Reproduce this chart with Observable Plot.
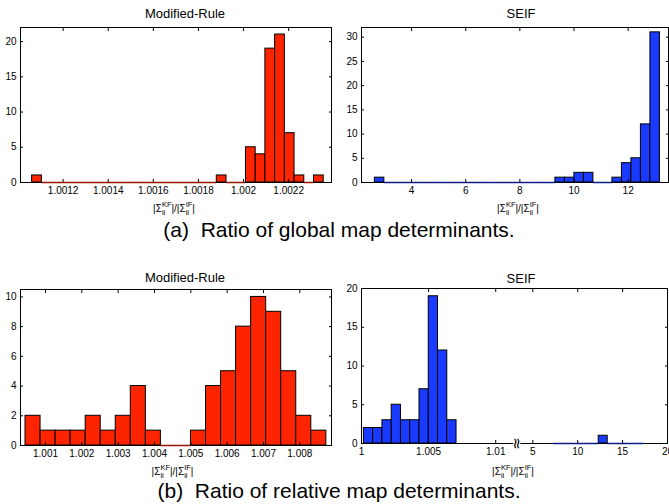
<!DOCTYPE html>
<html>
<head>
<meta charset="utf-8">
<script src="https://cdn.jsdelivr.net/npm/d3@7"></script>
<script src="https://cdn.jsdelivr.net/npm/@observablehq/plot@0.6"></script>
<style>
  html, body { margin: 0; padding: 0; background: #fff; }
  #fig { position: relative; width: 669px; height: 504px; overflow: hidden; background: #fff;
         font-family: "Liberation Sans", Arial, Helvetica, sans-serif; color: #000; }
  .panel { position: absolute; }
  .ttl { position: absolute; font-size: 13px; line-height: 13px; white-space: nowrap; transform: translate(-50%, -50%); }
  .xlab { position: absolute; font-size: 10px; line-height: 18px; white-space: nowrap; transform: translate(-50%, -50%); }
  .ss { display: inline-flex; flex-direction: column; font-size: 7.5px; line-height: 8px; vertical-align: middle; }
  .cap { position: absolute; font-size: 21px; line-height: 21px; white-space: pre; transform: translateX(-50%); }
</style>
</head>
<body>
<div id="fig"></div>
<script>
// ---------------- DATA ----------------
// (a) Ratio of global map determinants — Modified-Rule
const aModStart = 1.0010625;
const aModWidth = 0.0000431;
const aModCounts = [1,0,0,0,0,0,0,0,0,0,0,0,0,0,0,0,0,0,0,1,0,0,5,4,19,21,7,1,0,1];
const aModXDomain = [1.001011, 1.00239];
const aModXTicks = [1.0012, 1.0014, 1.0016, 1.0018, 1.002, 1.0022];
const aModYTicks = [0, 5, 10, 15, 20];
const aModYMax = 22;

// (a) — SEIF
const aSeifStart = 2.643;
const aSeifWidth = 0.351;
const aSeifCounts = [1,0,0,0,0,0,0,0,0,0,0,0,0,0,0,0,0,0,0,1,1,2,2,0,0,1,4,5,12,31];
const aSeifXDomain = [2.15, 13.49];
const aSeifXTicks = [4, 6, 8, 10, 12];
const aSeifYTicks = [0, 5, 10, 15, 20, 25, 30];
const aSeifYMax = 32;

// (b) Ratio of relative map determinants — Modified-Rule
const bModStart = 1.00045;
const bModWidth = 0.000414;
const bModCounts = [2,1,1,1,2,1,2,4,1,0,0,1,4,5,8,10,9,5,2,1];
const bModXDomain = [1.000312, 1.008872];
const bModXTicks = [1.001, 1.002, 1.003, 1.004, 1.005, 1.006, 1.007, 1.008];
const bModYTicks = [0, 2, 4, 6, 8, 10];
const bModYMax = 10.5;

// (b) — SEIF (broken x axis)
const bSeifLoStart = 1.00018;
const bSeifLoWidth = 0.00069;
const bSeifLoCounts = [2,2,3,5,3,3,7,19,12,3];
const bSeifHiStart = 7.34;
const bSeifHiWidth = 1.0;
const bSeifHiCounts = [0,0,0,0,0,1,0,0,0,0];
const bSeifXDomain = [1, 20];
const bSeifBreak = [1.0116, 3.26];
const bSeifXTicks = [1, 1.005, 1.01, 5, 10, 15, 20];
const bSeifYTicks = [0, 5, 10, 15, 20];
const bSeifYMax = 20;

const titles = ["Modified-Rule", "SEIF"];
const captions = ["(a)  Ratio of global map determinants.", "(b)  Ratio of relative map determinants."];

// ---------------- STYLE ----------------
const RED = "#ff2400", RED_DARK = "#9a1400";
const BLUE = "#1a3aff", BLUE_DARK = "#0c1c8a";
const fmt = d3.format("~g");
const FONT = "Liberation Sans, Arial, Helvetica, sans-serif";

function bins(start, width, counts) {
  return counts.map((c, i) => ({x1: start + i * width, x2: start + (i + 1) * width, count: c}));
}

function histPanel({data, color, dark, x, yMax, xTicks, yTicks, width, height, m, extra = []}) {
  return Plot.plot({
    width, height,
    marginLeft: m[0], marginRight: m[1], marginTop: m[2], marginBottom: m[3],
    style: {background: "none", overflow: "visible", fontFamily: FONT, fontSize: "10px", color: "black"},
    x, y: {domain: [0, yMax]},
    marks: [
      Plot.frame({stroke: "black", strokeWidth: 1}),
      Plot.ruleY(data.filter(d => d.count === 0), {x1: "x1", x2: "x2", y: () => 0, stroke: dark, strokeWidth: 1.5}),
      Plot.rect(data.filter(d => d.count > 0), {x1: "x1", x2: "x2", y1: () => 0, y2: "count", fill: color, stroke: "black", strokeWidth: 1}),
      ...extra,
      Plot.axisX(xTicks, {anchor: "bottom", tickSize: 0, tickPadding: 4.5, tickFormat: fmt, label: null, fontSize: 10}),
      Plot.axisX(xTicks, {anchor: "bottom", tickSize: 3, dy: -3, fill: "none", label: null}),
      Plot.axisX(xTicks, {anchor: "top", tickSize: 3, dy: 3, fill: "none", label: null}),
      Plot.axisY(yTicks, {anchor: "left", tickSize: 0, tickPadding: 4, tickFormat: fmt, label: null, fontSize: 10}),
      Plot.axisY(yTicks, {anchor: "left", tickSize: 3, dx: 3, fill: "none", label: null}),
      Plot.axisY(yTicks, {anchor: "right", tickSize: 3, dx: -3, fill: "none", label: null})
    ]
  });
}

const fig = document.getElementById("fig");
function place(node, left, top) {
  const d = document.createElement("div");
  d.className = "panel";
  d.style.left = left + "px";
  d.style.top = top + "px";
  d.appendChild(node);
  fig.appendChild(d);
}
function addDiv(cls, html, left, top) {
  const d = document.createElement("div");
  d.className = cls;
  d.style.left = left + "px";
  d.style.top = top + "px";
  d.innerHTML = html;
  fig.appendChild(d);
}

// (a) Modified-Rule
place(histPanel({
  data: bins(aModStart, aModWidth, aModCounts), color: RED, dark: RED_DARK,
  x: {domain: aModXDomain}, yMax: aModYMax, xTicks: aModXTicks, yTicks: aModYTicks,
  width: 335, height: 222, m: [20, 4, 27, 40]
}), 0, 0);

// (a) SEIF
place(histPanel({
  data: bins(aSeifStart, aSeifWidth, aSeifCounts), color: BLUE, dark: BLUE_DARK,
  x: {domain: aSeifXDomain}, yMax: aSeifYMax, xTicks: aSeifXTicks, yTicks: aSeifYTicks,
  width: 334, height: 222, m: [26, 1, 27, 40]
}), 335, 0);

// (b) Modified-Rule
place(histPanel({
  data: bins(bModStart, bModWidth, bModCounts), color: RED, dark: RED_DARK,
  x: {domain: bModXDomain}, yMax: bModYMax, xTicks: bModXTicks, yTicks: bModYTicks,
  width: 335, height: 230, m: [20, 4, 34, 40]
}), 0, 255);

// (b) SEIF, piecewise x scale with a break
const bSeifM = [26, 2, 33, 42];
const bSeifW = 334;
const breakPx = bSeifM[0] + 155.7;
place(histPanel({
  data: [...bins(bSeifLoStart, bSeifLoWidth, bSeifLoCounts), ...bins(bSeifHiStart, bSeifHiWidth, bSeifHiCounts)],
  color: BLUE, dark: BLUE_DARK,
  x: {type: "linear",
      domain: [bSeifXDomain[0], bSeifBreak[0], bSeifBreak[1], bSeifXDomain[1]],
      range: [bSeifM[0], breakPx, breakPx, bSeifW - bSeifM[1]]},
  yMax: bSeifYMax, xTicks: bSeifXTicks, yTicks: bSeifYTicks,
  width: bSeifW, height: 230, m: bSeifM,
  extra: [
    Plot.text([bSeifBreak[0]], {x: d => d, y: () => 0, text: () => "\u2248", rotate: 90,
      fontSize: 15, fontFamily: "DejaVu Sans", fill: "black", stroke: "white", strokeWidth: 2.5})
  ]
}), 335, 255);

// titles
addDiv("ttl", titles[0], 185, 13.3);
addDiv("ttl", titles[1], 521, 13.3);
addDiv("ttl", titles[0], 185, 276.7);
addDiv("ttl", titles[1], 521, 277.5);

// x labels |Σ_ii^KF| / |Σ_ii^IF|
const xl = '|\u03A3<span class="ss"><span>KF</span><span>ii</span></span>|/|\u03A3<span class="ss"><span>IF</span><span>ii</span></span>|';
addDiv("xlab", xl, 174, 208.5);
addDiv("xlab", xl, 518, 208.5);
addDiv("xlab", xl, 172.5, 472);
addDiv("xlab", xl, 513, 472);

// captions
addDiv("cap", captions[0], 339, 219.2);
addDiv("cap", captions[1], 339, 480.2);
</script>
</body>
</html>
